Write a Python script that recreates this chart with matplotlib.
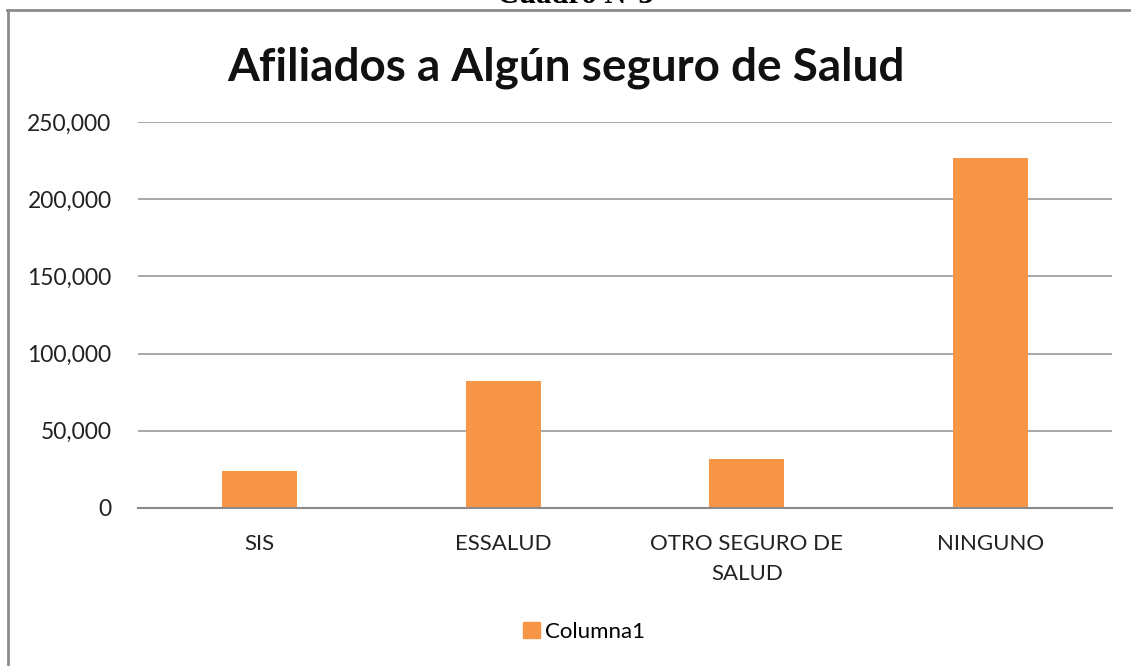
import matplotlib
matplotlib.use("Agg")
import matplotlib.pyplot as plt
import matplotlib.ticker as mticker
from matplotlib.lines import Line2D
from matplotlib.patches import Patch

categorias = ["SIS", "ESSALUD", "OTRO SEGURO DE\nSALUD", "NINGUNO"]
valores = [24000, 82000, 31500, 227000]
serie = "Columna1"
titulo = "Afiliados a Algún seguro de Salud"
y_ticks = [0, 50000, 100000, 150000, 200000, 250000]

plt.rcParams['font.family'] = ['Lato', 'DejaVu Sans']

W, H = 1131, 666
fig = plt.figure(figsize=(W / 100, H / 100), dpi=100)
ax = fig.add_axes([138 / W, 1 - 508 / H, (1112 - 138) / W, (508 - 122) / H])

x = range(len(categorias))
ax.bar(x, valores, width=0.31, color="#F79646", zorder=3)

ax.set_xlim(-0.5, len(categorias) - 0.5)
ax.set_ylim(0, 250000)
ax.set_yticks(y_ticks)
ax.yaxis.set_major_formatter(mticker.FuncFormatter(lambda v, p: f"{int(v):,}"))
ax.set_xticks(list(x))
ax.set_xticklabels(categorias, fontsize=16, color="#222222", linespacing=1.6)
ax.tick_params(axis="y", labelsize=16.5, length=0, pad=19, colors="#222222")
ax.tick_params(axis="x", length=0, pad=19)
ax.grid(axis="y", color="#9a9a9a", linewidth=1.2, zorder=0)
for s in ["top", "right", "left"]:
    ax.spines[s].set_visible(False)
ax.spines["bottom"].set_color("#8a8a8a")
ax.spines["bottom"].set_linewidth(1.5)
ax.spines["bottom"].set_zorder(4)

fig.text(566 / W, 1 - 68 / H, titulo, ha="center", va="center",
         fontsize=33, fontweight="bold", color="#111111")

# encabezado cortado
fig.text(575 / W, 1 - 3 / H, "Cuadro N°3", ha="center", va="baseline",
         fontsize=22, fontweight="bold", family="Liberation Serif")

# borde del cuadro
fig.add_artist(Line2D([7 / W, 1.0], [1 - 9.5 / H, 1 - 9.5 / H],
                      transform=fig.transFigure, color="#8c8c8c", linewidth=2))
fig.add_artist(Line2D([7.5 / W, 7.5 / W], [0, 1 - 9.5 / H],
                      transform=fig.transFigure, color="#8c8c8c", linewidth=2))

fig.legend(handles=[Patch(color="#F79646", label=serie)], loc="center",
           bbox_to_anchor=(584 / W, 1 - 632 / H), frameon=False, fontsize=16,
           handlelength=0.75, handleheight=0.75, handletextpad=0.2)

fig.savefig("out.png", dpi=100, facecolor="white")
